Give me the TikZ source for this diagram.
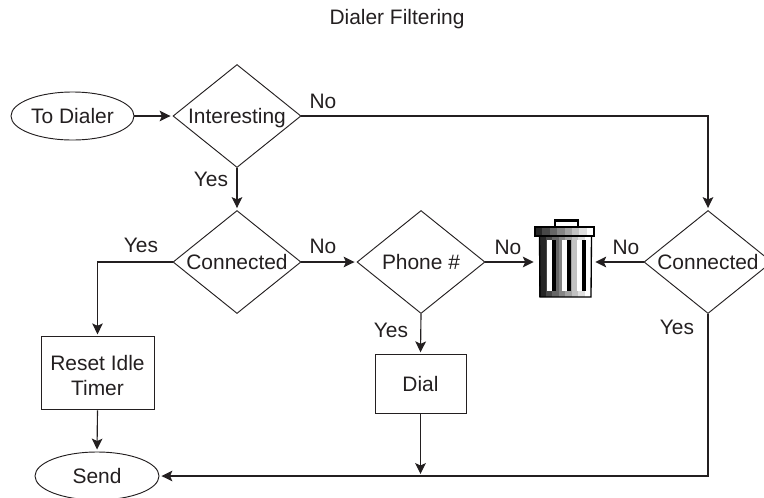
\documentclass[tikz,border=0pt]{standalone}
\usepackage{xcolor}
\usepackage{fontspec}
\setmainfont{Liberation Sans}
\usetikzlibrary{arrows.meta, positioning, calc, shapes.geometric}
\definecolor{inkgray}{HTML}{231F20}
\tikzset{
  decision/.style={draw=inkgray, line width=0.7pt, diamond, aspect=1.24, inner sep=0pt, minimum width=96pt, minimum height=77.25pt, text height=11.3pt, text depth=0pt},
  terminal/.style={draw=inkgray, line width=0.7pt, ellipse, inner sep=0pt, minimum height=36pt, text height=11.3pt, text depth=0pt},
  process/.style={draw=inkgray, line width=0.7pt, align=center, inner sep=0pt},
  flow/.style={->, inkgray, line width=0.85pt, shorten >=1.5pt},
  lbl/.style={inkgray}
}

\begin{document}
\begin{tikzpicture}[x=0.75pt, y=-0.75pt, >={Stealth[length=8.2pt,width=8pt,inset=1.8pt]},
    font=\fontsize{15.7}{18.9}\selectfont, text=inkgray]
    \clip (0,0) rectangle (764,497);
    \useasboundingbox (0,0) rectangle (764,497);

    % Title
    \node[lbl] (title) at (397,19) {Dialer Filtering};

    % Nodes
    \node[terminal, minimum width=92.25pt] (todialer) at (72.5,116) {To Dialer};
    \node[decision] (interesting) at (237,116) {Interesting};
    \node[decision] (connected) at (237,262) {Connected};
    \node[decision] (phone) at (421,262) {Phone \#};
    \node[decision] (connectedb) at (708,262) {Connected};
    \node[process, minimum width=84.75pt, minimum height=54.75pt] (reset) at (97.5,373.3) {\rule{0pt}{15pt}Reset Idle\\Timer};
    \node[process, minimum width=68.25pt, minimum height=44.25pt, text height=11.3pt, text depth=0pt] (dial) at (420.5,384.3) {Dial};
    \node[terminal, minimum width=93pt] (send) at (97,476) {Send};
    \node[inner sep=0pt, minimum width=42.75pt, minimum height=58pt] (trash) at (564.5,262) {};

    % Trash can
    \foreach \i/\shade in {0/85,1/72,2/60,3/48,4/36,5/24,6/12,7/0} {
        \fill[black!\shade] ({535+\i*7.4},227) rectangle ({535+(\i+1)*7.4},236);
        \fill[black!\shade] ({539+\i*6.5},236) rectangle ({539+(\i+1)*6.5},297);
    }
    \draw[black, line width=1pt] (535,227) rectangle (594,236);
    \draw[black, line width=1pt] (539.5,236) -- (540,297) -- (591,297) -- (591.5,236);
    \draw[black, line width=1.6pt] (555,227) -- (555,220.5) -- (578,220.5) -- (578,227);
    \foreach \slot in {547,562,577} {
        \fill[white] (\slot,240) rectangle (\slot+5,291);
        \fill[black] (\slot+5,240) rectangle (\slot+9,291);
    }

    % Connectors
    \coordinate (turn) at (708,116);
    \coordinate (join) at (420.5,476);
    \draw[flow] (todialer) -- (interesting);
    \draw[flow] (interesting.south) -- (connected.north);
    \draw[flow] (interesting.east) -- (turn) -- (connectedb.north);
    \draw[flow] (connected.west) -| (reset.north);
    \draw[flow] (connected.east) -- (phone.west);
    \draw[flow] (phone.east) -- (trash.west);
    \draw[flow] (connectedb.west) -- (trash.east);
    \draw[flow] (phone.south) -- (dial.north);
    \draw[flow] (reset.south) -- (send.north);
    \draw[flow] (dial.south) -- (join);
    \draw[flow] (connectedb.south) |- (send.east);

    % Labels
    \node[lbl] (noa) at (323,101) {No};
    \node[lbl] (yesa) at (211,179) {Yes};
    \node[lbl] (yesb) at (141,245) {Yes};
    \node[lbl] (nob) at (323,246) {No};
    \node[lbl] (noc) at (508,247) {No};
    \node[lbl] (nod) at (626,247) {No};
    \node[lbl] (yesc) at (391,330) {Yes};
    \node[lbl] (yesd) at (677,327) {Yes};

\end{tikzpicture}
\end{document}
